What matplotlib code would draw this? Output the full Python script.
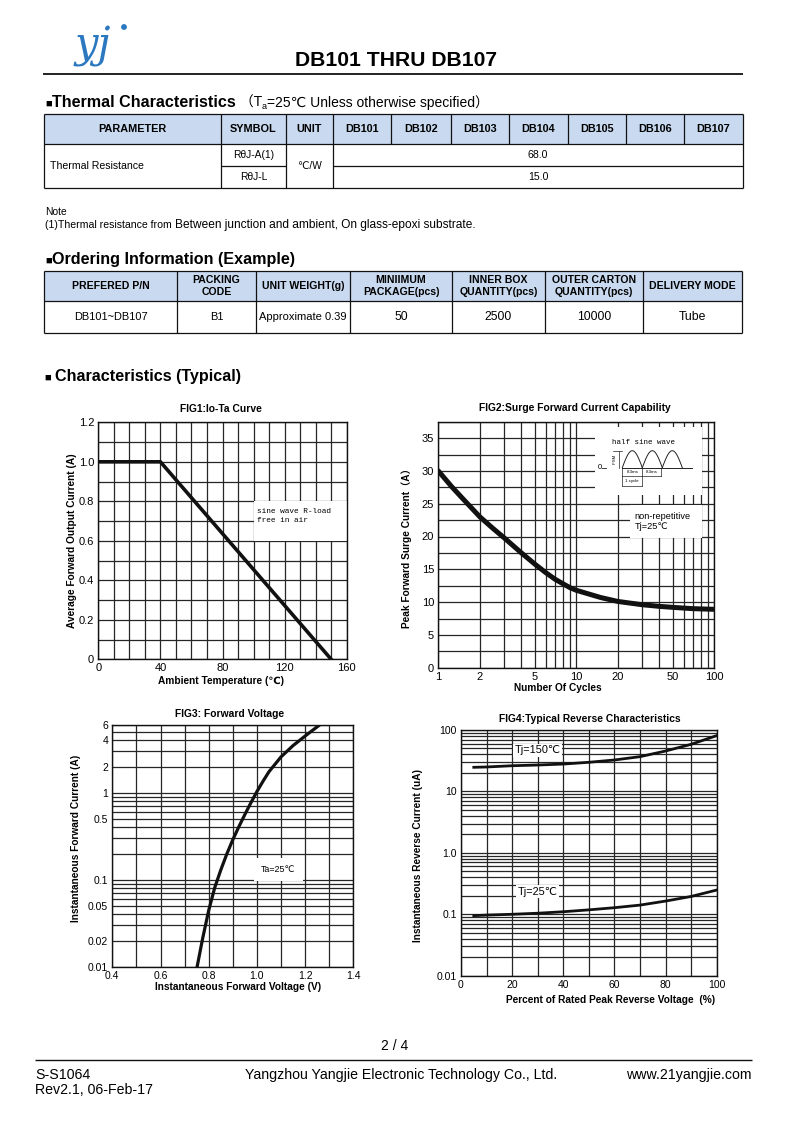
import numpy as np
import matplotlib
matplotlib.use("Agg")
import matplotlib.pyplot as plt
from matplotlib.patches import Rectangle, Circle
from matplotlib.ticker import NullFormatter

plt.rcParams['font.family'] = ['Liberation Sans', 'DejaVu Sans', 'Noto Sans CJK SC']

W, H = 794, 1122

# === Table data ===
device_names = ["DB101", "DB102", "DB103", "DB104", "DB105", "DB106", "DB107"]
thermal_header = ["PARAMETER", "SYMBOL", "UNIT"]
thermal_param = "Thermal Resistance"
thermal_symbols = ["RθJ-A(1)", "RθJ-L"]
thermal_unit = "℃/W"
thermal_values = ["68.0", "15.0"]

order_header = ["PREFERED P/N", "PACKING\nCODE", "UNIT WEIGHT(g)", "MINIIMUM\nPACKAGE(pcs)",
                "INNER BOX\nQUANTITY(pcs)", "OUTER CARTON\nQUANTITY(pcs)", "DELIVERY MODE"]
order_row = ["DB101~DB107", "B1", "Approximate 0.39", "50", "2500", "10000", "Tube"]

# === FIG1: Io-Ta curve ===
io_temp = [0, 40, 150]
io_current = [1.0, 1.0, 0.0]

# === FIG2: surge forward current ===
surge_cycles = [1, 1.25, 1.5, 2, 2.5, 3, 4, 5, 6, 7, 8, 9, 10, 15, 20, 30, 40, 50, 70, 100]
surge_current = [30.0, 27.6, 25.8, 23.0, 21.2, 19.8, 17.5, 15.8, 14.5, 13.5, 12.8, 12.2,
                 11.8, 10.7, 10.1, 9.6, 9.35, 9.2, 9.0, 8.9]

# === FIG3: forward voltage ===
fv_voltage = [0.752, 0.775, 0.8, 0.825, 0.85, 0.875, 0.9, 0.925, 0.95, 0.975, 1.0, 1.025,
              1.05, 1.1, 1.15, 1.2, 1.26]
fv_current = [0.01, 0.0212, 0.0444, 0.081, 0.129, 0.197, 0.288, 0.406, 0.561, 0.766, 1.03, 1.35,
              1.74, 2.58, 3.48, 4.48, 6.0]

# === FIG4: reverse characteristics ===
rev_percent = [5, 10, 20, 30, 40, 50, 60, 70, 80, 90, 100]
rev_150 = [24.7, 25.0, 26.2, 26.9, 27.9, 29.8, 32.5, 36.8, 45.5, 58.5, 81.0]
rev_25 = [0.095, 0.097, 0.100, 0.104, 0.110, 0.118, 0.128, 0.141, 0.164, 0.195, 0.248]

fig = plt.figure(figsize=(W / 100, H / 100), dpi=100)
renderer = fig.canvas.get_renderer()


def px_axes(left, top, right, bottom, **kw):
    return fig.add_axes([left / W, 1 - bottom / H, (right - left) / W, (bottom - top) / H], **kw)


GRID = dict(color='#262626', lw=0.9)


def style_ax(ax, labelsize=8):
    ax.set_axisbelow(True)
    ax.tick_params(which='both', length=0, labelsize=labelsize, pad=3)
    for sp in ax.spines.values():
        sp.set_linewidth(1.0)
        sp.set_color('#111111')
    ax.grid(True, which='both', **GRID)


def axis_labels(ax, xlabel, xpos, ylabel, ypos):
    ax.set_xlabel(xlabel, fontsize=7.3, fontweight='bold', va='center', ha='center')
    ax.xaxis.set_label_coords(*xpos)
    ax.set_ylabel(ylabel, fontsize=7.3, fontweight='bold', va='center', ha='center')
    ax.yaxis.set_label_coords(*ypos)


# === FIG1 ===
ax1 = px_axes(98.3, 422.3, 346.7, 659.3)
ax1.plot(io_temp, io_current, color='#111111', lw=2.6)
ax1.set_xlim(0, 160)
ax1.set_ylim(0, 1.2)
ax1.set_xticks([0, 40, 80, 120, 160])
ax1.set_xticks(np.arange(0, 161, 10), minor=True)
ax1.set_yticks([0, 0.2, 0.4, 0.6, 0.8, 1.0, 1.2])
ax1.set_yticklabels(["0", "0.2", "0.4", "0.6", "0.8", "1.0", "1.2"])
ax1.set_yticks(np.arange(0, 1.21, 0.1), minor=True)
style_ax(ax1)
ax1.add_patch(Rectangle((100, 0.6), 60, 0.2, facecolor='white', edgecolor='none', zorder=1))
ax1.text(102.5, 0.725, "sine wave R-load\nfree in air", family='Liberation Mono', fontsize=5.6,
         va='center', ha='left', linespacing=1.3)
axis_labels(ax1, "Ambient Temperature (℃)", (0.494, -0.092), "Average Forward Output Current (A)", (-0.106, 0.5))

# === FIG2 ===
ax2 = px_axes(438.3, 421.7, 714.3, 667.7)
ax2.plot(surge_cycles, surge_current, color='#111111', lw=3.6, solid_capstyle='round',
         solid_joinstyle='round')
ax2.set_xscale('log')
ax2.set_xlim(1, 100)
ax2.set_ylim(0, 37.5)
ax2.set_xticks([1, 2, 5, 10, 20, 50, 100])
ax2.set_xticklabels(["1", "2", "5", "10", "20", "50", "100"])
ax2.set_xticks([3, 4, 6, 7, 8, 9, 30, 40, 60, 70, 80, 90], minor=True)
ax2.xaxis.set_minor_formatter(NullFormatter())
ax2.set_yticks(np.arange(0, 36, 5))
ax2.set_yticks(np.arange(0, 37.6, 2.5), minor=True)
style_ax(ax2)
ax2.add_patch(Rectangle((0.568, 0.702), 0.387, 0.276, transform=ax2.transAxes,
                        facecolor='white', edgecolor='none', zorder=1))
ax2.add_patch(Rectangle((0.695, 0.527), 0.26, 0.134, transform=ax2.transAxes,
                        facecolor='white', edgecolor='none', zorder=1))
ax2.text(0.712, 0.594, "non-repetitive\nTj=25℃", transform=ax2.transAxes, fontsize=6.6,
         va='center', ha='left', linespacing=1.2)
axis_labels(ax2, "Number Of Cycles", (0.434, -0.083), "Peak Forward Surge Current（A）", (-0.113, 0.495))

# half sine wave sketch
ins = px_axes(595, 427, 702, 495)
ins.set_xlim(595, 702)
ins.set_ylim(495, 427)
ins.axis('off')
ins.text(644, 442, "half sine wave", family='Liberation Mono', fontsize=5.4, ha='center', va='center')
ins.plot([622.3, 692], [467.7, 467.7], color='#222222', lw=0.7)
for k in range(3):
    t = np.linspace(0, np.pi, 40)
    ins.plot(622.3 + 20 * k + 20 * t / np.pi, 467.7 - 17 * np.sin(t), color='#222222', lw=0.7)
ins.text(600, 467.7, "0", fontsize=5.5, ha='center', va='center')
ins.plot([602, 606], [467.7, 467.7], color='#222222', lw=0.6)
ins.plot([619, 619], [450.7, 467.7], color='#222222', lw=0.5)
ins.plot([613, 622.3], [450.7, 450.7], color='#222222', lw=0.5)
ins.text(614.5, 459, "IFSM", fontsize=3.2, rotation=90, ha='center', va='center')
for xx in [622.3, 642.3, 661]:
    ins.plot([xx, xx], [467.7, 475.5], color='#222222', lw=0.5)
ins.plot([622.3, 661], [475.5, 475.5], color='#222222', lw=0.5)
ins.text(632.3, 472, "8.3ms", fontsize=3.2, ha='center', va='center')
ins.text(651.6, 472, "8.3ms", fontsize=3.2, ha='center', va='center')
ins.plot([622.3, 622.3], [475.5, 486], color='#222222', lw=0.5)
ins.plot([642.3, 642.3], [475.5, 486], color='#222222', lw=0.5)
ins.plot([622.3, 642.3], [486, 486], color='#222222', lw=0.5)
ins.text(632.3, 481, "1 cycle", fontsize=3.2, ha='center', va='center')

# === FIG3 ===
ax3 = px_axes(112.3, 725, 353.3, 966.7)
ax3.plot(fv_voltage, fv_current, color='#111111', lw=2.3, solid_joinstyle='round')
ax3.set_yscale('log')
ax3.set_xlim(0.4, 1.4)
ax3.set_ylim(0.01, 6)
ax3.set_xticks([0.4, 0.6, 0.8, 1.0, 1.2, 1.4])
ax3.set_xticklabels(["0.4", "0.6", "0.8", "1.0", "1.2", "1.4"])
ax3.set_xticks(np.arange(0.4, 1.41, 0.1), minor=True)
ax3.set_yticks([0.01, 0.02, 0.05, 0.1, 0.5, 1, 2, 4, 6])
ax3.set_yticklabels(["0.01", "0.02", "0.05", "0.1", "0.5", "1", "2", "4", "6"])
ax3.set_yticks([0.03, 0.04, 0.06, 0.07, 0.08, 0.09, 0.2, 0.3, 0.4, 0.6, 0.7, 0.8, 0.9, 3, 5], minor=True)
ax3.yaxis.set_minor_formatter(NullFormatter())
style_ax(ax3, labelsize=7.5)
ax3.text(1.09, 0.13, "Ta=25℃", fontsize=6.4, ha='center', va='center', zorder=3,
         bbox=dict(facecolor='white', edgecolor='none', pad=5))
axis_labels(ax3, "Instantaneous Forward Voltage (V)", (0.522, -0.084),
            "Instantaneous Forward Current (A)", (-0.151, 0.532))

# === FIG4 ===
ax4 = px_axes(461, 730, 716.7, 975.7)
ax4.plot(rev_percent, rev_150, color='#111111', lw=2.0, solid_joinstyle='round')
ax4.plot(rev_percent, rev_25, color='#111111', lw=2.0, solid_joinstyle='round')
ax4.set_yscale('log')
ax4.set_xlim(0, 100)
ax4.set_ylim(0.01, 100)
ax4.set_xticks(np.arange(0, 101, 20))
ax4.set_xticks(np.arange(0, 101, 10), minor=True)
ax4.set_yticks([0.01, 0.1, 1, 10, 100])
ax4.set_yticklabels(["0.01", "0.1", "1.0", "10", "100"])
ax4.set_yticks([m * d for d in [0.01, 0.1, 1, 10] for m in range(2, 10)], minor=True)
ax4.yaxis.set_minor_formatter(NullFormatter())
style_ax(ax4, labelsize=7.5)
ax4.text(30, 47, "Tj=150℃", fontsize=7.8, ha='center', va='center', zorder=3,
         bbox=dict(facecolor='white', edgecolor='none', pad=1.2))
ax4.text(30, 0.233, "Tj=25℃", fontsize=7.8, ha='center', va='center', zorder=3,
         bbox=dict(facecolor='white', edgecolor='none', pad=1.2))
axis_labels(ax4, "Percent of Rated Peak Reverse Voltage  (%)", (0.583, -0.099),
            "Instantaneous Reverse Current (uA)", (-0.168, 0.49))

# === Page overlay (header, tables, footer) ===
page = fig.add_axes([0, 0, 1, 1], zorder=10)
page.set_xlim(0, W)
page.set_ylim(H, 0)
page.axis('off')


def put(x, y, s, size=7.5, weight='normal', ha='center', va='center', **kw):
    return page.text(x, y, s, fontsize=size, fontweight=weight, ha=ha, va=va, **kw)


def run(x, y, parts):
    for s, size, weight, dy in parts:
        t = page.text(x, y + dy, s, fontsize=size, fontweight=weight, ha='left', va='baseline')
        x += t.get_window_extent(renderer).width


def hline(y, x0, x1, lw=0.9):
    page.plot([x0, x1], [y, y], color='#111111', lw=lw, solid_capstyle='butt')


def vline(x, y0, y1, lw=0.9):
    page.plot([x, x], [y0, y1], color='#111111', lw=lw, solid_capstyle='butt')


# logo + title
page.text(93, 46, "yj", fontsize=30, style='italic', family='DejaVu Serif', color='#2b78c0',
          ha='center', va='center')
page.add_patch(Circle((124, 27), 2.2, color='#2b78c0'))
put(396, 60, "DB101 THRU DB107", size=15.2, weight='bold')
hline(74, 43, 743, lw=1.3)

# thermal characteristics
run(45, 107, [("■", 8, 'normal', 0), ("Thermal Characteristics", 11.6, 'bold', 0),
              (" （T", 10, 'normal', 0), ("a", 6.5, 'normal', 2), ("=25℃ Unless otherwise specified）", 10, 'normal', 0)])

tcols = [44, 221, 286, 333, 391, 451, 509, 568, 626, 684, 743]
trows = [114, 144, 166, 188]
page.add_patch(Rectangle((tcols[0], trows[0]), tcols[-1] - tcols[0], trows[1] - trows[0],
                         facecolor='#c9daf0', edgecolor='none'))
for y in [trows[0], trows[1], trows[3]]:
    hline(y, tcols[0], tcols[-1])
hline(trows[2], tcols[1], tcols[2])
hline(trows[2], tcols[3], tcols[-1])
for i, x in enumerate(tcols):
    vline(x, trows[0], trows[3] if (i <= 3 or i == len(tcols) - 1) else trows[1])
heads = thermal_header + device_names
for i, h in enumerate(heads):
    put((tcols[i] + tcols[i + 1]) / 2, (trows[0] + trows[1]) / 2, h, size=7.8, weight='bold')
put(50, (trows[1] + trows[3]) / 2, thermal_param, ha='left', size=7.6)
put((tcols[2] + tcols[3]) / 2, (trows[1] + trows[3]) / 2, thermal_unit, size=7.3)
for r in range(2):
    yc = (trows[r + 1] + trows[r + 2]) / 2
    put((tcols[1] + tcols[2]) / 2, yc, thermal_symbols[r], size=7.4)
    put((tcols[3] + tcols[-1]) / 2, yc, thermal_values[r], size=7.6)

put(45, 212, "Note", ha='left', size=7.4)
run(45, 228, [("(1)Thermal resistance from ", 7.6, 'normal', 0),
              ("Between junction and ambient, On glass-epoxi substrate.", 8.6, 'normal', 0)])

# ordering information
run(45, 264, [("■", 8, 'normal', 0), ("Ordering Information (Example)", 11.6, 'bold', 0)])
ocols = [44, 177, 256, 350, 452, 545, 643, 742]
orows = [271, 301, 333]
page.add_patch(Rectangle((ocols[0], orows[0]), ocols[-1] - ocols[0], orows[1] - orows[0],
                         facecolor='#c9daf0', edgecolor='none'))
for y in orows:
    hline(y, ocols[0], ocols[-1])
for x in ocols:
    vline(x, orows[0], orows[2])
row_sizes = [7.9, 7.9, 8.0, 8.8, 8.8, 8.8, 8.8]
for i, h in enumerate(order_header):
    xc = (ocols[i] + ocols[i + 1]) / 2
    put(xc, (orows[0] + orows[1]) / 2, h, size=7.6, weight='bold', linespacing=1.3)
    put(xc, (orows[1] + orows[2]) / 2, order_row[i], size=row_sizes[i])

# characteristics heading
run(45, 381, [("■ ", 8, 'normal', 0), ("Characteristics (Typical)", 11.6, 'bold', 0)])

# figure titles
put(221, 409, "FIG1:Io-Ta Curve", size=7.4, weight='bold')
put(575, 408, "FIG2:Surge Forward Current Capability", size=7.4, weight='bold')
put(230, 714, "FIG3: Forward Voltage", size=7.4, weight='bold')
put(590, 719, "FIG4:Typical Reverse Characteristics", size=7.4, weight='bold')

# footer
put(395, 1046, "2 / 4", size=10)
hline(1060, 35, 752, lw=1.0)
put(35, 1075, "S-S1064", ha='left', size=10.2)
put(35, 1090, "Rev2.1, 06-Feb-17", ha='left', size=10.2)
put(401, 1075, "Yangzhou Yangjie Electronic Technology Co., Ltd.", size=10.2)
put(752, 1075, "www.21yangjie.com", ha='right', size=10.2)

fig.savefig("out.png", dpi=100)
